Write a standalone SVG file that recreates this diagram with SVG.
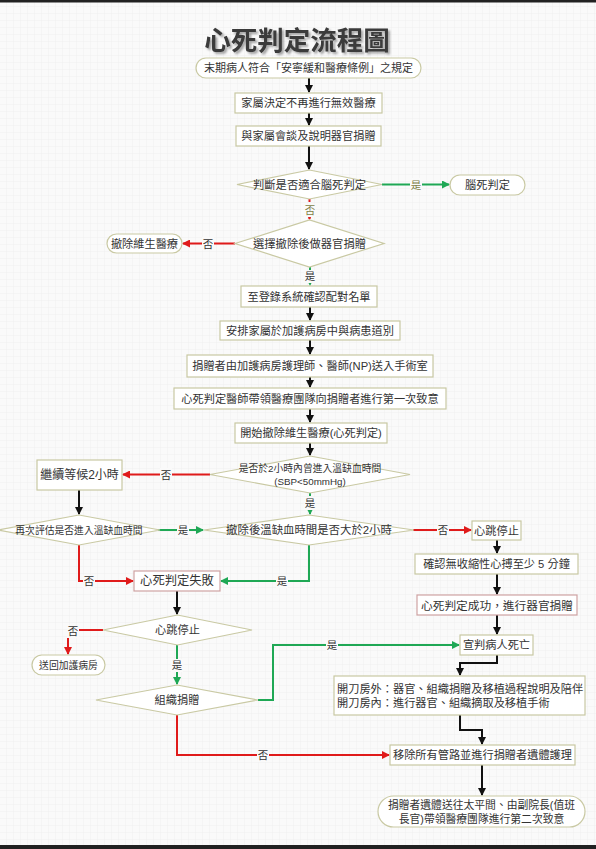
<svg xmlns="http://www.w3.org/2000/svg" width="596" height="849" viewBox="0 0 596 849">
<style>
text{font-family:"Liberation Sans","Noto Sans CJK TC",sans-serif;fill:#333;text-anchor:middle;dominant-baseline:central}
.box{fill:#fff;stroke:#c9c9a3;stroke-width:1.2}
.pink{fill:#fff;stroke:#cfa3a3;stroke-width:1.2}
.t{font-size:11.2px}
.bk{fill:none;stroke:#111;stroke-width:2}
.gr{fill:none;stroke:#1fa855;stroke-width:2}
.rd{fill:none;stroke:#e01b1b;stroke-width:2}
.dash{stroke-dasharray:3 3}
.lb{font-size:10.5px}
.lbo{font-size:10.5px;fill:#7d7d45}
.lbg{fill:#fafafa}
</style>
<defs>
<pattern id="grid" width="7" height="7" patternUnits="userSpaceOnUse">
<rect width="7" height="7" fill="#fafafa"/>
<path d="M7 0V7H0" fill="none" stroke="#ededed" stroke-width="0.8"/>
</pattern>
<marker id="ab" markerWidth="8" markerHeight="8" refX="7" refY="4" orient="auto" markerUnits="userSpaceOnUse"><path d="M0 0L8 4L0 8z" fill="#111"/></marker>
<marker id="ag" markerWidth="8" markerHeight="8" refX="7" refY="4" orient="auto" markerUnits="userSpaceOnUse"><path d="M0 0L8 4L0 8z" fill="#1fa855"/></marker>
<marker id="ar" markerWidth="8" markerHeight="8" refX="7" refY="4" orient="auto" markerUnits="userSpaceOnUse"><path d="M0 0L8 4L0 8z" fill="#e01b1b"/></marker>
<filter id="sh" x="-10%" y="-20%" width="130%" height="160%"><feDropShadow dx="2" dy="2" stdDeviation="1.2" flood-color="#000" flood-opacity="0.35"/></filter>
</defs>
<rect width="596" height="849" fill="url(#grid)"/>
<rect width="596" height="2.5" fill="#222"/>
<rect y="845" width="596" height="4" fill="#222"/>

<text x="297" y="41" style="font-size:26.5px;font-weight:bold;fill:#3a3a3a" filter="url(#sh)">心死判定流程圖</text>

<g id="connectors">
<path class="bk" d="M309 78V92" marker-end="url(#ab)"/>
<path class="bk" d="M309 113V125" marker-end="url(#ab)"/>
<path class="bk" d="M309 146V169" marker-end="url(#ab)"/>
<path class="bk" d="M310 307V320" marker-end="url(#ab)"/>
<path class="bk" d="M310 340V354" marker-end="url(#ab)"/>
<path class="bk" d="M310 377V387" marker-end="url(#ab)"/>
<path class="bk" d="M310 409V422" marker-end="url(#ab)"/>
<path class="bk" d="M310 443V455" marker-end="url(#ab)"/>
<path class="bk" d="M79 490V514" marker-end="url(#ab)"/>
<path class="bk" d="M497 540V553" marker-end="url(#ab)"/>
<path class="bk" d="M497 574V594" marker-end="url(#ab)"/>
<path class="bk" d="M177 591V614" marker-end="url(#ab)"/>
<path class="bk" d="M497 615V634" marker-end="url(#ab)"/>
<path class="bk" d="M497 655V663H460V675" marker-end="url(#ab)"/>
<path class="bk" d="M460 715V730H482V744" marker-end="url(#ab)"/>
<path class="bk" d="M482 764V795" marker-end="url(#ab)"/>

<path class="gr" d="M382 184.5H449" marker-end="url(#ag)"/>
<path class="gr dash" d="M310 267V285" marker-end="url(#ag)"/>
<path class="gr dash" d="M310 493V514" marker-end="url(#ag)"/>
<path class="gr" d="M158 530H203" marker-end="url(#ag)"/>
<path class="gr" d="M309 545V581H221" marker-end="url(#ag)"/>
<path class="gr" d="M177 645V684" marker-end="url(#ag)"/>
<path class="gr" d="M258 700H273V645H459" marker-end="url(#ag)"/>

<path class="rd dash" d="M309.5 199V219" marker-end="url(#ar)"/>
<path class="rd" d="M235 243.5H183" marker-end="url(#ar)"/>
<path class="rd" d="M210 474.5H123" marker-end="url(#ar)"/>
<path class="rd" d="M79 545V581H133" marker-end="url(#ar)"/>
<path class="rd" d="M413 530H471" marker-end="url(#ar)"/>
<path class="rd" d="M103 630H68V654" marker-end="url(#ar)"/>
<path class="rd" d="M177 715V755H389" marker-end="url(#ar)"/>

<rect class="lbg" x="410" y="178" width="12" height="13"/><text class="lbo" x="416" y="184.5">是</text>
<rect class="lbg" x="304" y="204" width="12" height="13"/><text class="lbo" x="310" y="210">否</text>
<rect class="lbg" x="202" y="237" width="12" height="13"/><text class="lb" x="208" y="243.5">否</text>
<rect class="lbg" x="304" y="270" width="12" height="13"/><text class="lb" x="310" y="276">是</text>
<rect class="lbg" x="160" y="468" width="12" height="13"/><text class="lb" x="166" y="474.5">否</text>
<rect class="lbg" x="304" y="497" width="12" height="13"/><text class="lb" x="310" y="503">是</text>
<rect class="lbg" x="177" y="524" width="12" height="13"/><text class="lb" x="183" y="530">是</text>
<rect class="lbg" x="437" y="524" width="12" height="13"/><text class="lb" x="443" y="530">否</text>
<rect class="lbg" x="83" y="575" width="12" height="13"/><text class="lb" x="89" y="581">否</text>
<rect class="lbg" x="276" y="575" width="12" height="13"/><text class="lb" x="282" y="581">是</text>
<rect class="lbg" x="67" y="625" width="12" height="13"/><text class="lb" x="73" y="631">否</text>
<rect class="lbg" x="171" y="659" width="12" height="13"/><text class="lb" x="177" y="665">是</text>
<rect class="lbg" x="326" y="639" width="12" height="13"/><text class="lb" x="332" y="645">是</text>
<rect class="lbg" x="257" y="749" width="12" height="13"/><text class="lb" x="263" y="755">否</text>
</g>

<g id="n1"><rect class="box" x="196" y="58" width="225" height="20" rx="10"/><text class="t" x="308.5" y="68" style="font-size:11px">末期病人符合「安寧緩和醫療條例」之規定</text></g>
<g id="n2"><rect class="box" x="235" y="93" width="147" height="20"/><text class="t" x="308.5" y="103">家屬決定不再進行無效醫療</text></g>
<g id="n3"><rect class="box" x="236" y="126" width="145" height="20"/><text class="t" x="308.5" y="136">與家屬會談及說明器官捐贈</text></g>
<g id="d1"><path class="box" d="M237 184.5L309.5 170L382 184.5L309.5 199z"/><text class="t" x="309.5" y="184.5" style="font-size:11.3px">判斷是否適合腦死判定</text></g>
<g id="n4"><rect class="box" x="450" y="175" width="75" height="20" rx="10"/><text class="t" x="487.5" y="185">腦死判定</text></g>
<g id="d2"><path class="box" d="M235 243.5L309.5 220L384 243.5L309.5 267z"/><text class="t" x="309.5" y="243.5" style="font-size:11.3px">選擇撤除後做器官捐贈</text></g>
<g id="n5"><rect class="box" x="107" y="234" width="75" height="19" rx="9.5"/><text class="t" x="144.5" y="243.5">撤除維生醫療</text></g>
<g id="n6"><rect class="box" x="241" y="286" width="136" height="21"/><text class="t" x="309" y="296.5">至登錄系統確認配對名單</text></g>
<g id="n7"><rect class="box" x="220" y="321" width="180" height="19"/><text class="t" x="310" y="330.5">安排家屬於加護病房中與病患道別</text></g>
<g id="n8"><rect class="box" x="187" y="355" width="246" height="22"/><text class="t" x="310" y="366">捐贈者由加護病房護理師、醫師(NP)送入手術室</text></g>
<g id="n9"><rect class="box" x="174" y="388" width="272" height="21"/><text class="t" x="310" y="398.5">心死判定醫師帶領醫療團隊向捐贈者進行第一次致意</text></g>
<g id="n10"><rect class="box" x="235" y="423" width="152" height="20"/><text class="t" x="311" y="433">開始撤除維生醫療(心死判定)</text></g>
<g id="d3"><path class="box" d="M210 474.5L310 456L410 474.5L310 493z"/><text x="310" y="468.5" style="font-size:9.8px">是否於2小時內曾進入溫缺血時間</text><text x="310" y="481.5" style="font-size:9.8px">(SBP&lt;50mmHg)</text></g>
<g id="n11"><rect class="box" x="37" y="460" width="85" height="30"/><text x="79.5" y="475" style="font-size:12px">繼續等候2小時</text></g>
<g id="d4"><path class="box" d="M204 530L309 515L414 530L309 545z"/><text x="309" y="530" style="font-size:11.4px">撤除後溫缺血時間是否大於2小時</text></g>
<g id="d5"><path class="box" d="M-2 530L79 515L160 530L79 545z"/><text x="79" y="530" style="font-size:9.8px">再次評估是否進入溫缺血時間</text></g>
<g id="n12"><rect class="box" x="472" y="521" width="49" height="19"/><text class="t" x="496.5" y="530.5">心跳停止</text></g>
<g id="n13"><rect class="box" x="415" y="554" width="163" height="20"/><text class="t" x="496.5" y="564">確認無收縮性心搏至少 5 分鐘</text></g>
<g id="n14"><rect class="pink" x="134" y="571" width="86" height="20"/><text x="177" y="581" style="font-size:12.3px">心死判定失敗</text></g>
<g id="n15"><rect class="pink" x="417" y="595" width="160" height="20"/><text x="497" y="605" style="font-size:11.7px">心死判定成功，進行器官捐贈</text></g>
<g id="d6"><path class="box" d="M103 630L177.5 615L252 630L177.5 645z"/><text class="t" x="177.5" y="630">心跳停止</text></g>
<g id="n16"><rect class="box" x="32" y="655" width="73" height="20" rx="10"/><text x="68.5" y="665" style="font-size:9.8px">送回加護病房</text></g>
<g id="d7"><path class="box" d="M96 700L177 685L258 700L177 715z"/><text class="t" x="177" y="700">組織捐贈</text></g>
<g id="n17"><rect class="box" x="460" y="635" width="73" height="20"/><text class="t" x="496.5" y="645">宣判病人死亡</text></g>
<g id="n18"><rect class="box" x="334" y="676" width="251" height="39"/><text class="t" x="337" y="689" style="text-anchor:start">開刀房外：器官、組織捐贈及移植過程說明及陪伴</text><text class="t" x="337" y="703" style="text-anchor:start">開刀房內：進行器官、組織摘取及移植手術</text></g>
<g id="n19"><rect class="box" x="390" y="745" width="185" height="20"/><text class="t" x="482.5" y="755">移除所有管路並進行捐贈者遺體護理</text></g>
<g id="n20"><rect class="box" x="378" y="796" width="207" height="31" rx="15.5"/><text class="t" x="481.5" y="805" style="font-size:10.8px">捐贈者遺體送往太平間、由副院長(值班</text><text class="t" x="481.5" y="818.5" style="font-size:10.8px">長官)帶領醫療團隊進行第二次致意</text></g>
</svg>
